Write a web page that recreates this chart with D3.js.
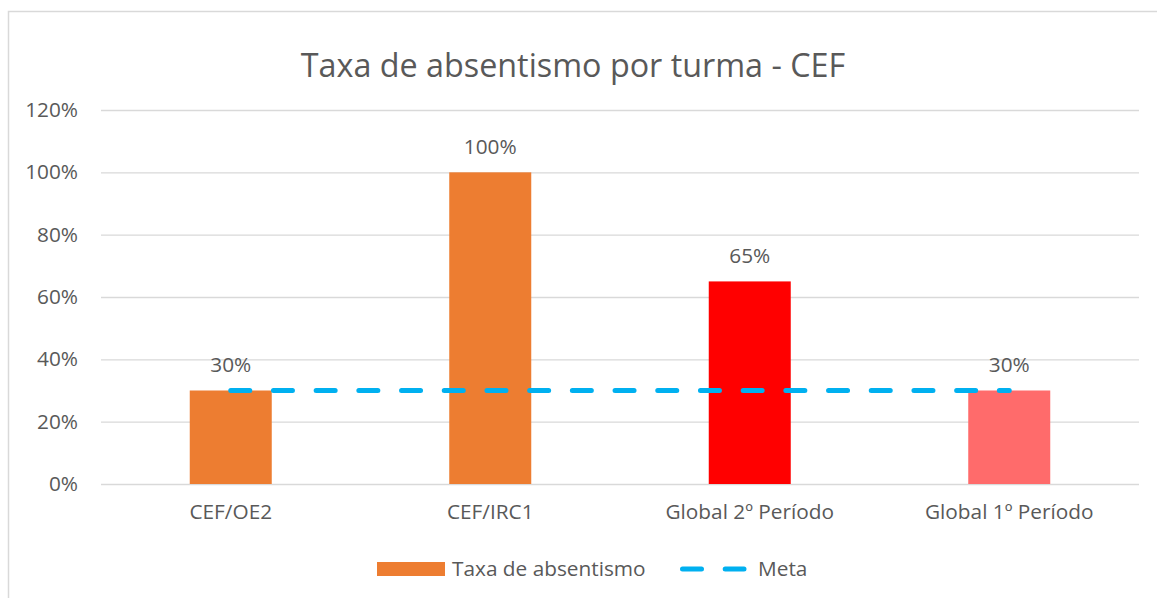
<!DOCTYPE html>
<html>
<head>
<meta charset="utf-8">
<script src="https://cdn.jsdelivr.net/npm/d3@7"></script>
<style>
  body { margin: 0; background: #fff; }
  text { font-family: "Open Sans", "Noto Sans", sans-serif; fill: #595959; }
</style>
</head>
<body>
<script>
// data
var categories = ["CEF/OE2", "CEF/IRC1", "Global 2º Período", "Global 1º Período"];
var taxaValues = [0.30, 1.00, 0.65, 0.30];
var barColors = ["#ED7D31", "#ED7D31", "#FF0000", "#FF6B6B"];
var metaValues = [0.30, 0.30, 0.30, 0.30];
var yTicks = [0, 0.2, 0.4, 0.6, 0.8, 1.0, 1.2];
var chartTitle = "Taxa de absentismo por turma - CEF";
var legendLabels = ["Taxa de absentismo", "Meta"];

var W = 1157, H = 598;
var plot = { left: 101, right: 1139, top: 110, bottom: 484 };
var fs = 20.8;

var svg = d3.select("body").append("svg")
  .attr("width", W)
  .attr("height", H);

// chart frame
svg.append("rect")
  .attr("x", 8.5).attr("y", 11.5)
  .attr("width", 1170).attr("height", 620)
  .attr("fill", "none")
  .attr("stroke", "#d9d9d9")
  .attr("stroke-width", 1.5);

var x = d3.scaleBand()
  .domain(categories)
  .range([plot.left, plot.right])
  .paddingInner(0.684)
  .paddingOuter(0.342);

var y = d3.scaleLinear()
  .domain([0, 1.2])
  .range([plot.bottom, plot.top]);

var pct = d3.format(".0%");

// gridlines + y labels
var yAxis = d3.axisLeft(y)
  .tickValues(yTicks)
  .tickFormat(pct)
  .tickSize(-(plot.right - plot.left))
  .tickPadding(23);

var gy = svg.append("g")
  .attr("transform", "translate(" + plot.left + ",0)")
  .call(yAxis);
gy.select(".domain").remove();
gy.selectAll(".tick line").attr("stroke", "#d9d9d9").attr("stroke-width", 1.3);
gy.selectAll(".tick text")
  .attr("font-size", fs)
  .attr("font-family", "'Open Sans', sans-serif")
  .attr("fill", "#595959");

// x labels
var xAxis = d3.axisBottom(x).tickSize(0).tickPadding(20);
var gx = svg.append("g")
  .attr("transform", "translate(0," + plot.bottom + ")")
  .call(xAxis);
gx.select(".domain").remove();
gx.selectAll(".tick text")
  .attr("font-size", fs)
  .attr("font-family", "'Open Sans', sans-serif")
  .attr("fill", "#595959");

// bars
svg.append("g").selectAll("rect")
  .data(categories)
  .join("rect")
  .attr("x", function(d) { return x(d); })
  .attr("y", function(d, i) { return y(taxaValues[i]); })
  .attr("width", x.bandwidth())
  .attr("height", function(d, i) { return plot.bottom - y(taxaValues[i]); })
  .attr("fill", function(d, i) { return barColors[i]; });

// data labels
svg.append("g").selectAll("text")
  .data(categories)
  .join("text")
  .attr("x", function(d) { return x(d) + x.bandwidth() / 2; })
  .attr("y", function(d, i) { return y(taxaValues[i]) - 18.5; })
  .attr("text-anchor", "middle")
  .attr("font-size", fs)
  .text(function(d, i) { return pct(taxaValues[i]); });

// meta line
var metaLine = d3.line()
  .x(function(d, i) { return x(categories[i]) + x.bandwidth() / 2; })
  .y(function(d) { return y(d); });

svg.append("path")
  .datum(metaValues)
  .attr("d", metaLine)
  .attr("fill", "none")
  .attr("stroke", "#00B0F0")
  .attr("stroke-width", 5)
  .attr("stroke-linecap", "round")
  .attr("stroke-dasharray", "19,23.7");

// title
svg.append("text")
  .attr("x", 573)
  .attr("y", 77)
  .attr("text-anchor", "middle")
  .attr("font-size", 32.3)
  .text(chartTitle);

// legend
var lg = svg.append("g");
lg.append("rect")
  .attr("x", 377).attr("y", 562)
  .attr("width", 68).attr("height", 14)
  .attr("fill", barColors[0]);
lg.append("text")
  .attr("x", 452).attr("y", 569)
  .attr("dy", "0.35em")
  .attr("font-size", fs)
  .text(legendLabels[0]);
lg.append("line")
  .attr("x1", 682.5).attr("x2", 744)
  .attr("y1", 569).attr("y2", 569)
  .attr("stroke", "#00B0F0")
  .attr("stroke-width", 5)
  .attr("stroke-linecap", "round")
  .attr("stroke-dasharray", "19,23.7");
lg.append("text")
  .attr("x", 758).attr("y", 569)
  .attr("dy", "0.35em")
  .attr("font-size", fs)
  .text(legendLabels[1]);
</script>
</body>
</html>
